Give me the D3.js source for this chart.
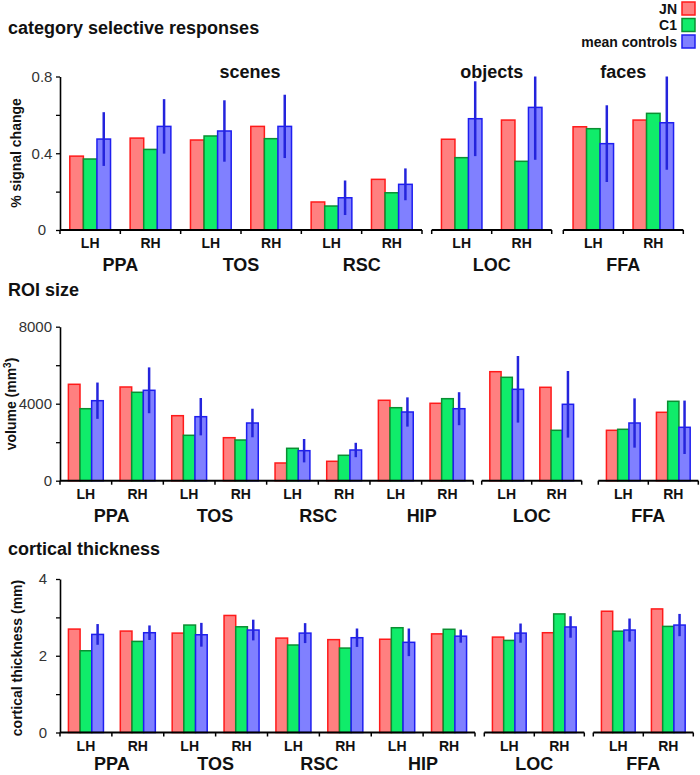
<!DOCTYPE html>
<html><head><meta charset="utf-8">
<script src="https://cdn.jsdelivr.net/npm/d3@7"></script>
<style>body{margin:0;background:#fff} svg{display:block}</style>
</head><body>
<svg id="c" width="700" height="775"></svg>
<script>
// ---------- data ----------
const seriesNames = ["JN", "C1", "mean controls"];
const hemis = ["LH", "RH"];

// category selective responses (% signal change), order: region x hemisphere
const respRegions = ["PPA", "TOS", "RSC", "LOC", "FFA"];
const respGroupLabels = ["scenes", "objects", "faces"];
const respJN   = [0.385, 0.479, 0.469, 0.540, 0.146, 0.264, 0.473, 0.573, 0.538, 0.573];
const respC1   = [0.370, 0.420, 0.490, 0.476, 0.125, 0.194, 0.377, 0.358, 0.528, 0.608];
const respCtrl = [0.474, 0.540, 0.516, 0.540, 0.168, 0.238, 0.580, 0.639, 0.450, 0.559];
const respErr  = [0.140, 0.142, 0.160, 0.165, 0.090, 0.083, 0.195, 0.273, 0.200, 0.245];
const respTicks = [0, 0.2, 0.4, 0.6, 0.8];
const respTickLabels = ["0", "", "0.4", "", "0.8"];

// ROI size (volume mm3)
const volRegions = ["PPA", "TOS", "RSC", "HIP", "LOC", "FFA"];
const volJN   = [5008, 4868, 3377, 2234, 920, 1008, 4177, 4021, 5663, 4852, 2618, 3553];
const volC1   = [3740, 4592, 2358, 2114, 1683, 1320, 3792, 4260, 5371, 2618, 2670, 4125];
const volCtrl = [4156, 4696, 3325, 2997, 1559, 1595, 3569, 3740, 4748, 3969, 2997, 2774];
const volErr  = [943, 1190, 970, 742, 608, 374, 760, 857, 1730, 1730, 1280, 1388];
const volTicks = [0, 2000, 4000, 6000, 8000];
const volTickLabels = ["0", "", "4000", "", "8000"];

// cortical thickness (mm)
const thickRegions = ["PPA", "TOS", "RSC", "HIP", "LOC", "FFA"];
const thickJN   = [2.695, 2.643, 2.590, 3.050, 2.460, 2.420, 2.430, 2.570, 2.486, 2.600, 3.160, 3.220];
const thickC1   = [2.130, 2.374, 2.800, 2.755, 2.280, 2.200, 2.730, 2.690, 2.400, 3.090, 2.640, 2.765];
const thickCtrl = [2.556, 2.600, 2.547, 2.670, 2.590, 2.470, 2.350, 2.510, 2.590, 2.750, 2.670, 2.800];
const thickErr  = [0.27, 0.19, 0.31, 0.27, 0.26, 0.24, 0.36, 0.17, 0.25, 0.28, 0.30, 0.29];
const thickTicks = [0, 1, 2, 3, 4];
const thickTickLabels = ["0", "", "2", "", "4"];

// ---------- style ----------
const FONT = "'Liberation Sans', Arial, Helvetica, sans-serif";
const fills   = {"JN": "#ff8080", "C1": "#10ec6a", "mean controls": "#8080ff"};
const strokes = {"JN": "#ff1a1a", "C1": "#0a8f32", "mean controls": "#1e1ef0"};
const errColor = "#2424dc";

const svg = d3.select("#c").style("font-family", FONT);

function panel(cfg) {
  const g = svg.append("g");
  const y = d3.scaleLinear().domain([0, cfg.max]).range([cfg.y0, cfg.y1]);
  const xAxisStart = cfg.segments[0].x[0];

  // title
  g.append("text").attr("x", 8).attr("y", cfg.titleY)
    .attr("font-size", 18).attr("font-weight", "bold").attr("fill", "#111")
    .text(cfg.title);

  // y axis
  const ya = g.append("g").attr("transform", `translate(${xAxisStart},0)`)
    .call(d3.axisLeft(y).tickValues(cfg.ticks).tickSize(4).tickSizeOuter(0)
      .tickFormat((d, i) => cfg.tickLabels[i]));
  ya.select(".domain").attr("stroke", "#000").attr("stroke-width", 1.6);
  ya.selectAll(".tick line").attr("stroke", "#000").attr("stroke-width", 1.3);
  ya.selectAll(".tick text")
    .attr("x", cfg.tickLabelX - xAxisStart).attr("text-anchor", cfg.tickAnchor)
    .attr("font-size", 15).attr("fill", "#333").attr("font-family", FONT);

  // y label
  const yl = g.append("text")
    .attr("transform", `translate(${cfg.yLabelX},${cfg.yLabelY}) rotate(-90)`)
    .attr("text-anchor", "middle").attr("font-size", 14).attr("font-weight", "bold")
    .attr("fill", "#111");
  cfg.yLabel(yl);

  cfg.segments.forEach(seg => {
    const keys = seg.regions.flatMap(r => hemis.map(h => r + "|" + h));
    const xb = d3.scaleBand().domain(keys).range(seg.x);
    const xs = d3.scaleBand().domain(seriesNames).range([0, xb.bandwidth()]).paddingOuter(0.722);
    const sg = g.append("g");

    keys.forEach(k => {
      const [r, h] = k.split("|");
      const idx = cfg.regions.indexOf(r) * 2 + hemis.indexOf(h);
      seriesNames.forEach((s, si) => {
        const v = cfg.values[si][idx];
        sg.append("rect")
          .attr("x", xb(k) + xs(s)).attr("width", xs.bandwidth())
          .attr("y", y(v)).attr("height", y(0) - y(v))
          .attr("fill", fills[s]).attr("stroke", strokes[s]).attr("stroke-width", 1.5);
      });
      const v = cfg.values[2][idx], e = cfg.err[idx];
      const cx = xb(k) + xs("mean controls") + xs.bandwidth() / 2;
      sg.append("line").attr("x1", cx).attr("x2", cx)
        .attr("y1", y(Math.min(v + e, cfg.max))).attr("y2", y(v - e))
        .attr("stroke", errColor).attr("stroke-width", 2.5);
      // hemisphere label
      sg.append("text").attr("x", xb(k) + xb.bandwidth() / 2).attr("y", cfg.y0 + 18)
        .attr("text-anchor", "middle").attr("font-size", 14).attr("font-weight", "bold")
        .attr("fill", "#111").text(h);
    });

    // region labels
    seg.regions.forEach(r => {
      const cx = xb(r + "|RH");
      sg.append("text").attr("x", cx).attr("y", cfg.y0 + cfg.regionDy)
        .attr("text-anchor", "middle").attr("font-size", 18).attr("font-weight", "bold")
        .attr("fill", "#111").text(r);
    });

    // x axis segment with boundary ticks
    const bounds = keys.map(k => xb(k)).concat([seg.x[1]]);
    sg.append("line").attr("x1", seg.x[0]).attr("x2", seg.x[1])
      .attr("y1", cfg.y0).attr("y2", cfg.y0)
      .attr("stroke", "#000").attr("stroke-width", 2);
    bounds.forEach(b => {
      sg.append("line").attr("x1", b).attr("x2", b)
        .attr("y1", cfg.y0).attr("y2", cfg.y0 + 4)
        .attr("stroke", "#000").attr("stroke-width", 1.5);
    });

    if (seg.label) {
      sg.append("text").attr("x", (seg.x[0] + seg.x[1]) / 2 + (seg.labelDx || 0))
        .attr("y", cfg.segLabelY).attr("text-anchor", "middle")
        .attr("font-size", 18).attr("font-weight", "bold").attr("fill", "#111")
        .text(seg.label);
    }
  });
}

panel({
  title: "category selective responses", titleY: 34,
  max: 0.8, y0: 230, y1: 76.5, regionDy: 41,
  ticks: respTicks, tickLabels: respTickLabels, tickLabelX: 42, tickAnchor: "middle",
  yLabelX: 21, yLabelY: 153,
  yLabel: t => t.text("% signal change"),
  regions: respRegions,
  values: [respJN, respC1, respCtrl], err: respErr,
  segLabelY: 78,
  segments: [
    {regions: ["PPA", "TOS", "RSC"], x: [60, 422], label: respGroupLabels[0], labelDx: 9},
    {regions: ["LOC"], x: [431.7, 551.7], label: respGroupLabels[1]},
    {regions: ["FFA"], x: [563.3, 683.3], label: respGroupLabels[2]}
  ]
});

panel({
  title: "ROI size", titleY: 296,
  max: 8000, y0: 480.7, y1: 326.7, regionDy: 41,
  ticks: volTicks, tickLabels: volTickLabels, tickLabelX: 52, tickAnchor: "end",
  yLabelX: 16, yLabelY: 404,
  yLabel: t => {
    t.append("tspan").text("volume (mm");
    t.append("tspan").attr("font-size", 10).attr("dy", -5).text("3");
    t.append("tspan").attr("dy", 5).text(")");
  },
  regions: volRegions,
  values: [volJN, volC1, volCtrl], err: volErr,
  segments: [
    {regions: ["PPA", "TOS", "RSC", "HIP"], x: [60, 473.3]},
    {regions: ["LOC"], x: [481.7, 581.7]},
    {regions: ["FFA"], x: [598.3, 698.3]}
  ]
});

panel({
  title: "cortical thickness", titleY: 555,
  max: 4, y0: 732.5, y1: 579, regionDy: 37.5,
  ticks: thickTicks, tickLabels: thickTickLabels, tickLabelX: 47, tickAnchor: "end",
  yLabelX: 22, yLabelY: 658,
  yLabel: t => t.text("cortical thickness (mm)"),
  regions: thickRegions,
  values: [thickJN, thickC1, thickCtrl], err: thickErr,
  segments: [
    {regions: ["PPA", "TOS", "RSC", "HIP"], x: [60, 475]},
    {regions: ["LOC"], x: [484.3, 584.3]},
    {regions: ["FFA"], x: [593.3, 693.3]}
  ]
});

// legend
const leg = svg.append("g");
seriesNames.forEach((s, i) => {
  const top = 2 + i * 16.5;
  leg.append("rect").attr("x", 682).attr("y", top).attr("width", 13).attr("height", 13)
    .attr("fill", fills[s]).attr("stroke", strokes[s]).attr("stroke-width", 1.5);
  leg.append("text").attr("x", 677).attr("y", top + 11.5).attr("text-anchor", "end")
    .attr("font-size", 14).attr("font-weight", "bold").attr("fill", "#111").text(s);
});
</script>
</body></html>
